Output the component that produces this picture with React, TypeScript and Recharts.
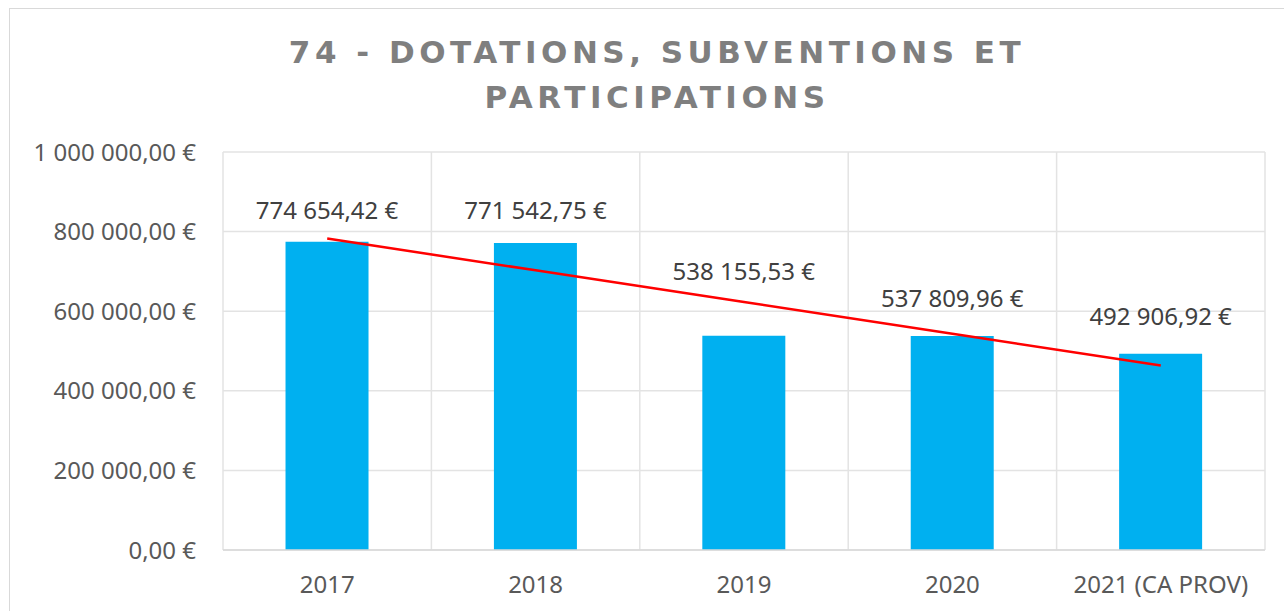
import React from 'react';
import {
  Bar,
  CartesianGrid,
  ComposedChart,
  LabelList,
  Line,
  XAxis,
  YAxis,
} from 'recharts';

const years = ['2017', '2018', '2019', '2020', '2021 (CA PROV)'];
const amounts = [774654.42, 771542.75, 538155.53, 537809.96, 492906.92];
// red trend line (straight line 2017 -> 2021)
const trend = [782500, 702700, 623000, 543300, 463600];
const yTicks = [0, 200000, 400000, 600000, 800000, 1000000];

// how far each value label sits above its bar (labels were moved by hand in the original)
const labelLift = [32, 33, 65, 38, 38];

const tickFont = "'Noto Sans', 'DejaVu Sans', sans-serif";

const formatEuro = (v: number): string => {
  const [int, dec] = v.toFixed(2).split('.');
  return `${int.replace(/\B(?=(\d{3})+(?!\d))/g, ' ')},${dec} €`;
};

const chartData = years.map((year, i) => ({
  year,
  amount: amounts[i],
  trend: trend[i],
}));

const ValueLabel = (props: any) => {
  const box = props.viewBox ?? props;
  const x = box.x ?? props.x;
  const y = box.y ?? props.y;
  const width = box.width ?? props.width;
  const i = typeof props.index === 'number' ? props.index : amounts.indexOf(props.value);
  return (
    <text
      x={x + width / 2}
      y={y - labelLift[i]}
      textAnchor="middle"
      dominantBaseline="central"
      fill="#404040"
      fontSize={24}
      fontFamily={tickFont}
    >
      {formatEuro(Number(props.value))}
    </text>
  );
};

const App: React.FC = () => {
  return (
    <div
      style={{
        position: 'absolute',
        left: 9,
        top: 8,
        width: 1275,
        height: 603,
        borderLeft: '1px solid #d9d9d9',
        borderTop: '1px solid #d9d9d9',
        boxSizing: 'border-box',
        background: '#fff',
        overflow: 'hidden',
      }}
    >
      <div
        style={{
          position: 'absolute',
          left: 19,
          top: 21,
          width: 1256,
          textAlign: 'center',
          fontFamily: "'Comic Sans MS', 'DejaVu Sans', sans-serif",
          fontWeight: 700,
          fontSize: 31,
          letterSpacing: 4.5,
          lineHeight: '45px',
          color: '#7f7f7f',
        }}
      >
        <div>74 - DOTATIONS, SUBVENTIONS ET</div>
        <div>PARTICIPATIONS</div>
      </div>
      <ComposedChart
        width={1274}
        height={602}
        data={chartData}
        margin={{ top: 143, right: 19, bottom: 31, left: 0 }}
        barCategoryGap="30%"
      >
        <CartesianGrid
          stroke="#e3e3e3"
          strokeWidth={1.5}
          verticalCoordinatesGenerator={({ offset }: any) =>
            Array.from({ length: years.length + 1 }, (_, i) => offset.left + (i * offset.width) / years.length)
          }
        />
        <XAxis
          dataKey="year"
          height={30}
          axisLine={{ stroke: '#d9d9d9', strokeWidth: 1.5 }}
          tickLine={false}
          tickSize={0}
          tickMargin={26}
          tick={{ fill: '#595959', fontSize: 24, fontFamily: tickFont }}
        />
        <YAxis
          width={213}
          domain={[0, 1000000]}
          ticks={yTicks}
          interval={0}
          axisLine={false}
          tickLine={false}
          tickSize={0}
          tickMargin={27}
          tickFormatter={(v: number) => formatEuro(v)}
          tick={{ fill: '#595959', fontSize: 24, fontFamily: tickFont }}
        />
        <Bar dataKey="amount" fill="#00b0f0" isAnimationActive={false}>
          <LabelList dataKey="amount" content={<ValueLabel />} />
        </Bar>
        <Line
          dataKey="trend"
          type="linear"
          stroke="#ff0000"
          strokeWidth={2.5}
          dot={false}
          activeDot={false}
          isAnimationActive={false}
        />
      </ComposedChart>
    </div>
  );
};

export default App;
